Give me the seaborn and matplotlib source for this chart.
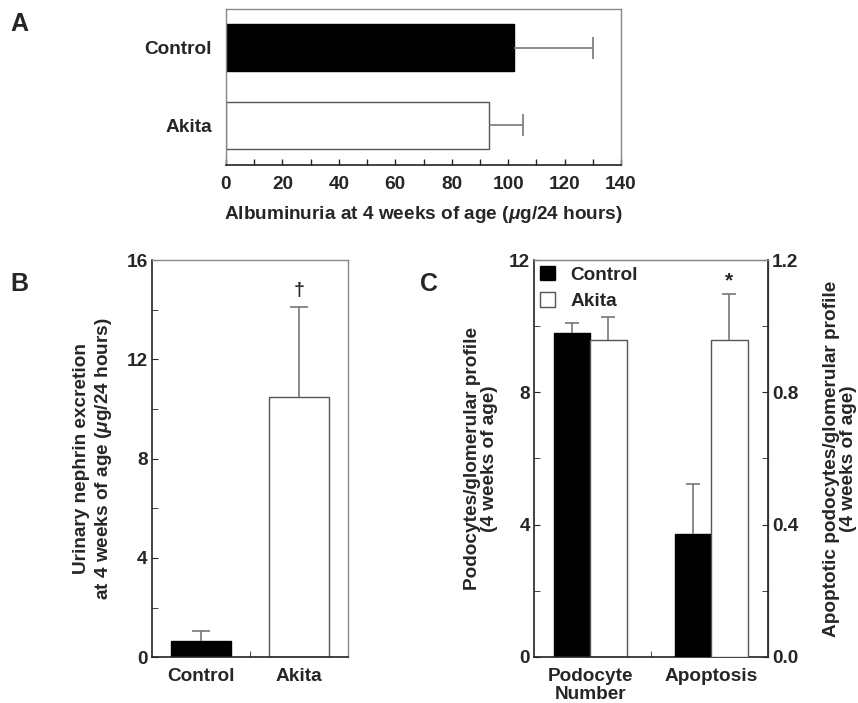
import numpy as np
import pandas as pd
import matplotlib
matplotlib.use("Agg")
import matplotlib.pyplot as plt
import seaborn as sns
from matplotlib.patches import Patch
from matplotlib.ticker import MultipleLocator, FixedLocator, FormatStrFormatter

# ---------------- data ----------------
groups = ["Control", "Akita"]
alb_mean = [102.0, 93.2]
alb_sd = [28.0, 12.0]
neph_mean = [0.67, 10.5]
neph_sd = [0.40, 3.62]
c_categories = ["Podocyte\nNumber", "Apoptosis"]
pod_mean = [9.78, 9.58]
pod_sd = [0.32, 0.69]
apo_mean = [0.371, 0.958]
apo_sd = [0.153, 0.139]

# ---------------- style ----------------
sns.set_style("ticks")
plt.rcParams["font.family"] = ["Liberation Sans", "DejaVu Sans"]
plt.rcParams["font.weight"] = "bold"
plt.rcParams["axes.labelweight"] = "bold"
plt.rcParams["mathtext.fontset"] = "custom"
plt.rcParams["mathtext.rm"] = "Liberation Sans:bold"
plt.rcParams["mathtext.it"] = "Liberation Sans:italic:bold"
plt.rcParams["mathtext.bf"] = "Liberation Sans:bold"

FS = 13.7
pal = {"Control": "black", "Akita": "white"}
edge = {"Control": "black", "Akita": "#555555"}
ERR = "#777777"
FRAME = "#888888"

fig = plt.figure(figsize=(8.58, 7.03), dpi=100)

def style_frame(ax, dark=("left", "bottom")):
    for side, sp in ax.spines.items():
        sp.set_visible(True)
        if side in dark:
            sp.set_color("#222222"); sp.set_linewidth(1.2)
        else:
            sp.set_color(FRAME); sp.set_linewidth(1.0)

def upper_err(ax, x, y, err, horizontal=False, capsize=6):
    if horizontal:
        c = ax.errorbar(x, y, xerr=[[0] * len(err), err], fmt="none",
                        ecolor=ERR, elinewidth=1.2, capsize=capsize, capthick=1.2)
    else:
        c = ax.errorbar(x, y, yerr=[[0] * len(err), err], fmt="none",
                        ecolor=ERR, elinewidth=1.2, capsize=capsize, capthick=1.2)
    caps = c.lines[1]
    if len(caps) > 0:
        caps[0].set_visible(False)
    return c

# ---------------- Panel A ----------------
axA = fig.add_axes([0.2634, 0.7653, 0.4604, 0.2215])
dfA = pd.DataFrame({"group": groups, "value": alb_mean})
sns.barplot(data=dfA, x="value", y="group", hue="group", order=groups,
            hue_order=groups, palette=pal, orient="h", width=0.605,
            legend=False, ax=axA, linewidth=1.0)
for p, g in zip(axA.patches, groups):
    p.set_edgecolor(edge[g])
centersA = [p.get_y() + p.get_height() / 2 for p in axA.patches]
upper_err(axA, alb_mean, centersA, alb_sd, horizontal=True, capsize=8.1)
axA.set_xlim(0, 140)
axA.set_ylim(1.51, -0.495)
axA.xaxis.set_major_locator(MultipleLocator(20))
axA.xaxis.set_minor_locator(MultipleLocator(10))
axA.tick_params(axis="x", which="both", direction="in", length=4,
                width=1, labelsize=FS, pad=8)
axA.tick_params(axis="y", length=0, labelsize=FS, pad=10)
axA.set_ylabel("")
axA.set_xlabel(r"Albuminuria at 4 weeks of age ($\mu$g/24 hours)",
               fontsize=FS, labelpad=8)
style_frame(axA, dark=("bottom",))
for t in axA.get_xticklabels() + axA.get_yticklabels():
    t.set_fontweight("bold")

# ---------------- Panel B ----------------
axB = fig.add_axes([0.1768, 0.065, 0.2291, 0.5651])
dfB = pd.DataFrame({"group": groups, "value": neph_mean})
sns.barplot(data=dfB, x="group", y="value", hue="group", order=groups,
            hue_order=groups, palette=pal, width=0.61, legend=False,
            ax=axB, linewidth=1.0)
for p, g in zip(axB.patches, groups):
    p.set_edgecolor(edge[g])
centersB = [p.get_x() + p.get_width() / 2 for p in axB.patches]
upper_err(axB, centersB, neph_mean, neph_sd, capsize=6.7)
axB.set_ylim(0, 16)
axB.set_xlim(-0.5, 1.5)
axB.yaxis.set_major_locator(MultipleLocator(4))
axB.yaxis.set_minor_locator(MultipleLocator(2))
axB.xaxis.set_minor_locator(FixedLocator([0.5]))
axB.tick_params(axis="y", which="both", direction="in", length=4,
                labelsize=FS, pad=3)
axB.tick_params(axis="x", which="major", length=0, labelsize=FS, pad=8)
axB.tick_params(axis="x", which="minor", direction="in", length=4)
axB.set_xlabel("")
axB.set_ylabel("Urinary nephrin excretion\n" + r"at 4 weeks of age ($\mu$g/24 hours)",
               fontsize=FS, labelpad=9, linespacing=1.2)
axB.text(centersB[1], neph_mean[1] + neph_sd[1] + 0.3, "\u2020",
         ha="center", va="bottom", fontsize=14, fontweight="bold")
style_frame(axB)
for t in axB.get_xticklabels() + axB.get_yticklabels():
    t.set_fontweight("bold")

# ---------------- Panel C ----------------
axC = fig.add_axes([0.6227, 0.0658, 0.272, 0.5643])
dfP = pd.DataFrame({"cat": [c_categories[0]] * 2, "group": groups, "value": pod_mean})
sns.barplot(data=dfP, x="cat", y="value", hue="group", order=c_categories,
            hue_order=groups, palette=pal, width=0.6, legend=False,
            ax=axC, linewidth=1.0)
for p, g in zip(axC.patches, groups):
    p.set_edgecolor(edge[g])
centersP = [p.get_x() + p.get_width() / 2 for p in axC.patches]
upper_err(axC, centersP, pod_mean, pod_sd, capsize=5.3)

ax2 = axC.twinx()
dfQ = pd.DataFrame({"cat": [c_categories[1]] * 2, "group": groups, "value": apo_mean})
sns.barplot(data=dfQ, x="cat", y="value", hue="group", order=c_categories,
            hue_order=groups, palette=pal, width=0.6, legend=False,
            ax=ax2, linewidth=1.0)
for p, g in zip(ax2.patches, groups):
    p.set_edgecolor(edge[g])
centersQ = [p.get_x() + p.get_width() / 2 for p in ax2.patches]
upper_err(ax2, centersQ, apo_mean, apo_sd, capsize=5.3)
ax2.text(centersQ[1], apo_mean[1] + apo_sd[1] + 0.012, "*",
         ha="center", va="bottom", fontsize=15, fontweight="bold")

axC.set_ylim(0, 12)
ax2.set_ylim(0, 1.2)
axC.set_xlim(-0.463, 1.466)
axC.yaxis.set_major_locator(MultipleLocator(4))
axC.yaxis.set_minor_locator(MultipleLocator(2))
ax2.yaxis.set_major_locator(MultipleLocator(0.4))
ax2.yaxis.set_minor_locator(MultipleLocator(0.2))
ax2.yaxis.set_major_formatter(FormatStrFormatter("%.1f"))
axC.xaxis.set_minor_locator(FixedLocator([0.5]))
axC.tick_params(axis="y", which="both", direction="in", length=4,
                labelsize=FS, pad=3)
ax2.tick_params(axis="y", which="both", direction="in", length=4,
                labelsize=FS, pad=3)
axC.tick_params(axis="x", which="major", length=0, labelsize=FS, pad=8)
axC.tick_params(axis="x", which="minor", direction="in", length=4)
ax2.tick_params(axis="x", which="both", length=0, labelbottom=False)
axC.set_xticks([0, 1])
axC.set_xticklabels(c_categories, linespacing=1.1)
axC.set_xlabel("")
ax2.set_xlabel("")
axC.set_ylabel("Podocytes/glomerular profile\n(4 weeks of age)",
               fontsize=FS, labelpad=8, linespacing=1.0)
ax2.set_ylabel("Apoptotic podocytes/glomerular profile\n(4 weeks of age)",
               fontsize=FS, labelpad=18, linespacing=0.95)
style_frame(axC)
for side, sp in ax2.spines.items():
    if side == "right":
        sp.set_color("#222222"); sp.set_linewidth(1.2)
    elif side == "top":
        sp.set_color(FRAME)
    else:
        sp.set_visible(False)
for t in axC.get_xticklabels() + axC.get_yticklabels() + ax2.get_yticklabels():
    t.set_fontweight("bold")

handles = [Patch(facecolor="black", edgecolor="black", label="Control"),
           Patch(facecolor="white", edgecolor="#555555", label="Akita")]
leg = axC.legend(handles=handles, loc="upper left", frameon=False,
                 fontsize=FS, handlelength=0.8, handleheight=0.8,
                 handletextpad=0.8, borderaxespad=0.2, labelspacing=0.45,
                 borderpad=0.1)
for t in leg.get_texts():
    t.set_fontweight("bold")

# ---------------- panel letters ----------------
fig.text(10 / 858, 1 - 12 / 703, "A", fontsize=18, fontweight="bold", va="top")
fig.text(10 / 858, 1 - 272 / 703, "B", fontsize=18, fontweight="bold", va="top")
fig.text(420 / 858, 1 - 272 / 703, "C", fontsize=18, fontweight="bold", va="top")

fig.savefig("out.png", dpi=100)
